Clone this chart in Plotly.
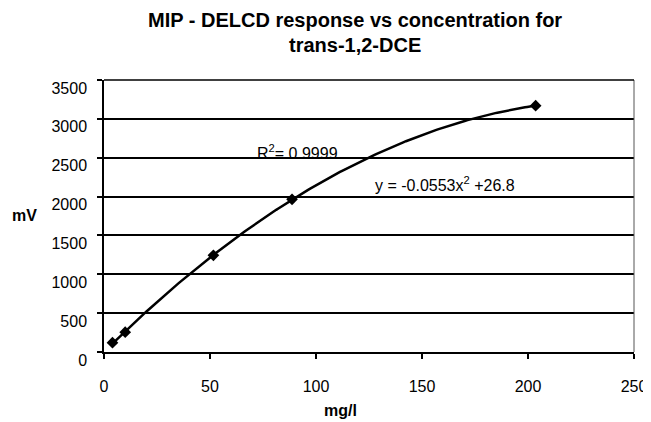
import numpy as np
import plotly.graph_objects as go

# Data
conc_mg_l = [4, 10, 51.6, 88.7, 203.6]
response_mV = [120, 255, 1244, 1965, 3170]

x_ticks = [0, 50, 100, 150, 200, 250]
y_ticks = [0, 500, 1000, 1500, 2000, 2500, 3000, 3500]

title_line1 = "MIP - DELCD response vs concentration for"
title_line2 = "trans-1,2-DCE"
r2_text = "R<sup>2</sup>= 0.9999"
eq_text = "y = -0.0553x<sup>2</sup> +26.8"

# Polynomial (order 2) trendline fitted to the data, like the spreadsheet trendline
coef = np.polyfit(conc_mg_l, response_mV, 2)
xt = np.linspace(min(conc_mg_l), max(conc_mg_l), 200)
yt = np.polyval(coef, xt)

FONT = "Liberation Sans, Arial, sans-serif"

fig = go.Figure()
fig.add_trace(go.Scatter(x=xt, y=yt, mode="lines",
                         line=dict(color="black", width=2.5), hoverinfo="skip"))
fig.add_trace(go.Scatter(x=conc_mg_l, y=response_mV, mode="markers",
                         marker=dict(symbol="diamond", color="black", size=9)))

# the page body has an 8px margin, so the figure is 8px smaller in each direction
fig.update_layout(
    width=643, height=414,
    margin=dict(l=96, r=17, t=72, b=70),
    paper_bgcolor="white", plot_bgcolor="white",
    showlegend=False,
    font=dict(family=FONT, color="black", size=16),
    xaxis=dict(range=[0, 250], tickvals=x_ticks, showgrid=False, zeroline=False,
               automargin=False,
               showline=True, linecolor="black", linewidth=1.5, mirror=False,
               ticks="outside", ticklen=5, tickcolor="black", tickwidth=1.5,
               ticklabelstandoff=14, tickfont=dict(size=16)),
    yaxis=dict(range=[0, 3500], tickvals=y_ticks, showgrid=True, gridcolor="black",
               automargin=False,
               gridwidth=1.5, zeroline=False, showline=True, linecolor="black",
               linewidth=1.5, ticks="outside", ticklen=5, tickcolor="black",
               tickwidth=1.5, ticklabelstandoff=7, ticklabelshift=8,
               tickfont=dict(size=16)),
    shapes=[
        dict(type="line", xref="paper", yref="paper", x0=1, x1=1, y0=0, y1=1,
             line=dict(color="#555555", width=1)),
        dict(type="line", xref="paper", yref="paper", x0=0, x1=1, y0=1, y1=1,
             line=dict(color="black", width=1.5)),
    ],
    annotations=[
        dict(text=f"<b>{title_line1}</b>", xref="paper", yref="paper",
             x=(355 - 104) / 530, y=1, yshift=60, showarrow=False,
             font=dict(size=20), xanchor="center", yanchor="middle"),
        dict(text=f"<b>{title_line2}</b>", xref="paper", yref="paper",
             x=(355 - 104) / 530, y=1, yshift=35, showarrow=False,
             font=dict(size=20), xanchor="center", yanchor="middle"),
        dict(text="<b>mV</b>", xref="paper", yref="paper", x=0, xshift=-80,
             y=(352 - 215) / 272, showarrow=False, font=dict(size=16),
             xanchor="center", yanchor="middle"),
        dict(text="<b>mg/l</b>", xref="paper", yref="paper",
             x=(340 - 104) / 530, y=0, yshift=-58, showarrow=False,
             font=dict(size=16), xanchor="center", yanchor="middle"),
        dict(text=r2_text, xref="paper", yref="paper", x=(255 - 104) / 530,
             y=(352 - 152) / 272, showarrow=False, font=dict(size=16),
             xanchor="left", yanchor="middle"),
        dict(text=eq_text, xref="paper", yref="paper", x=(373 - 104) / 530,
             y=(352 - 184) / 272, showarrow=False, font=dict(size=16),
             xanchor="left", yanchor="middle"),
    ],
)

fig.write_html("out.html")
